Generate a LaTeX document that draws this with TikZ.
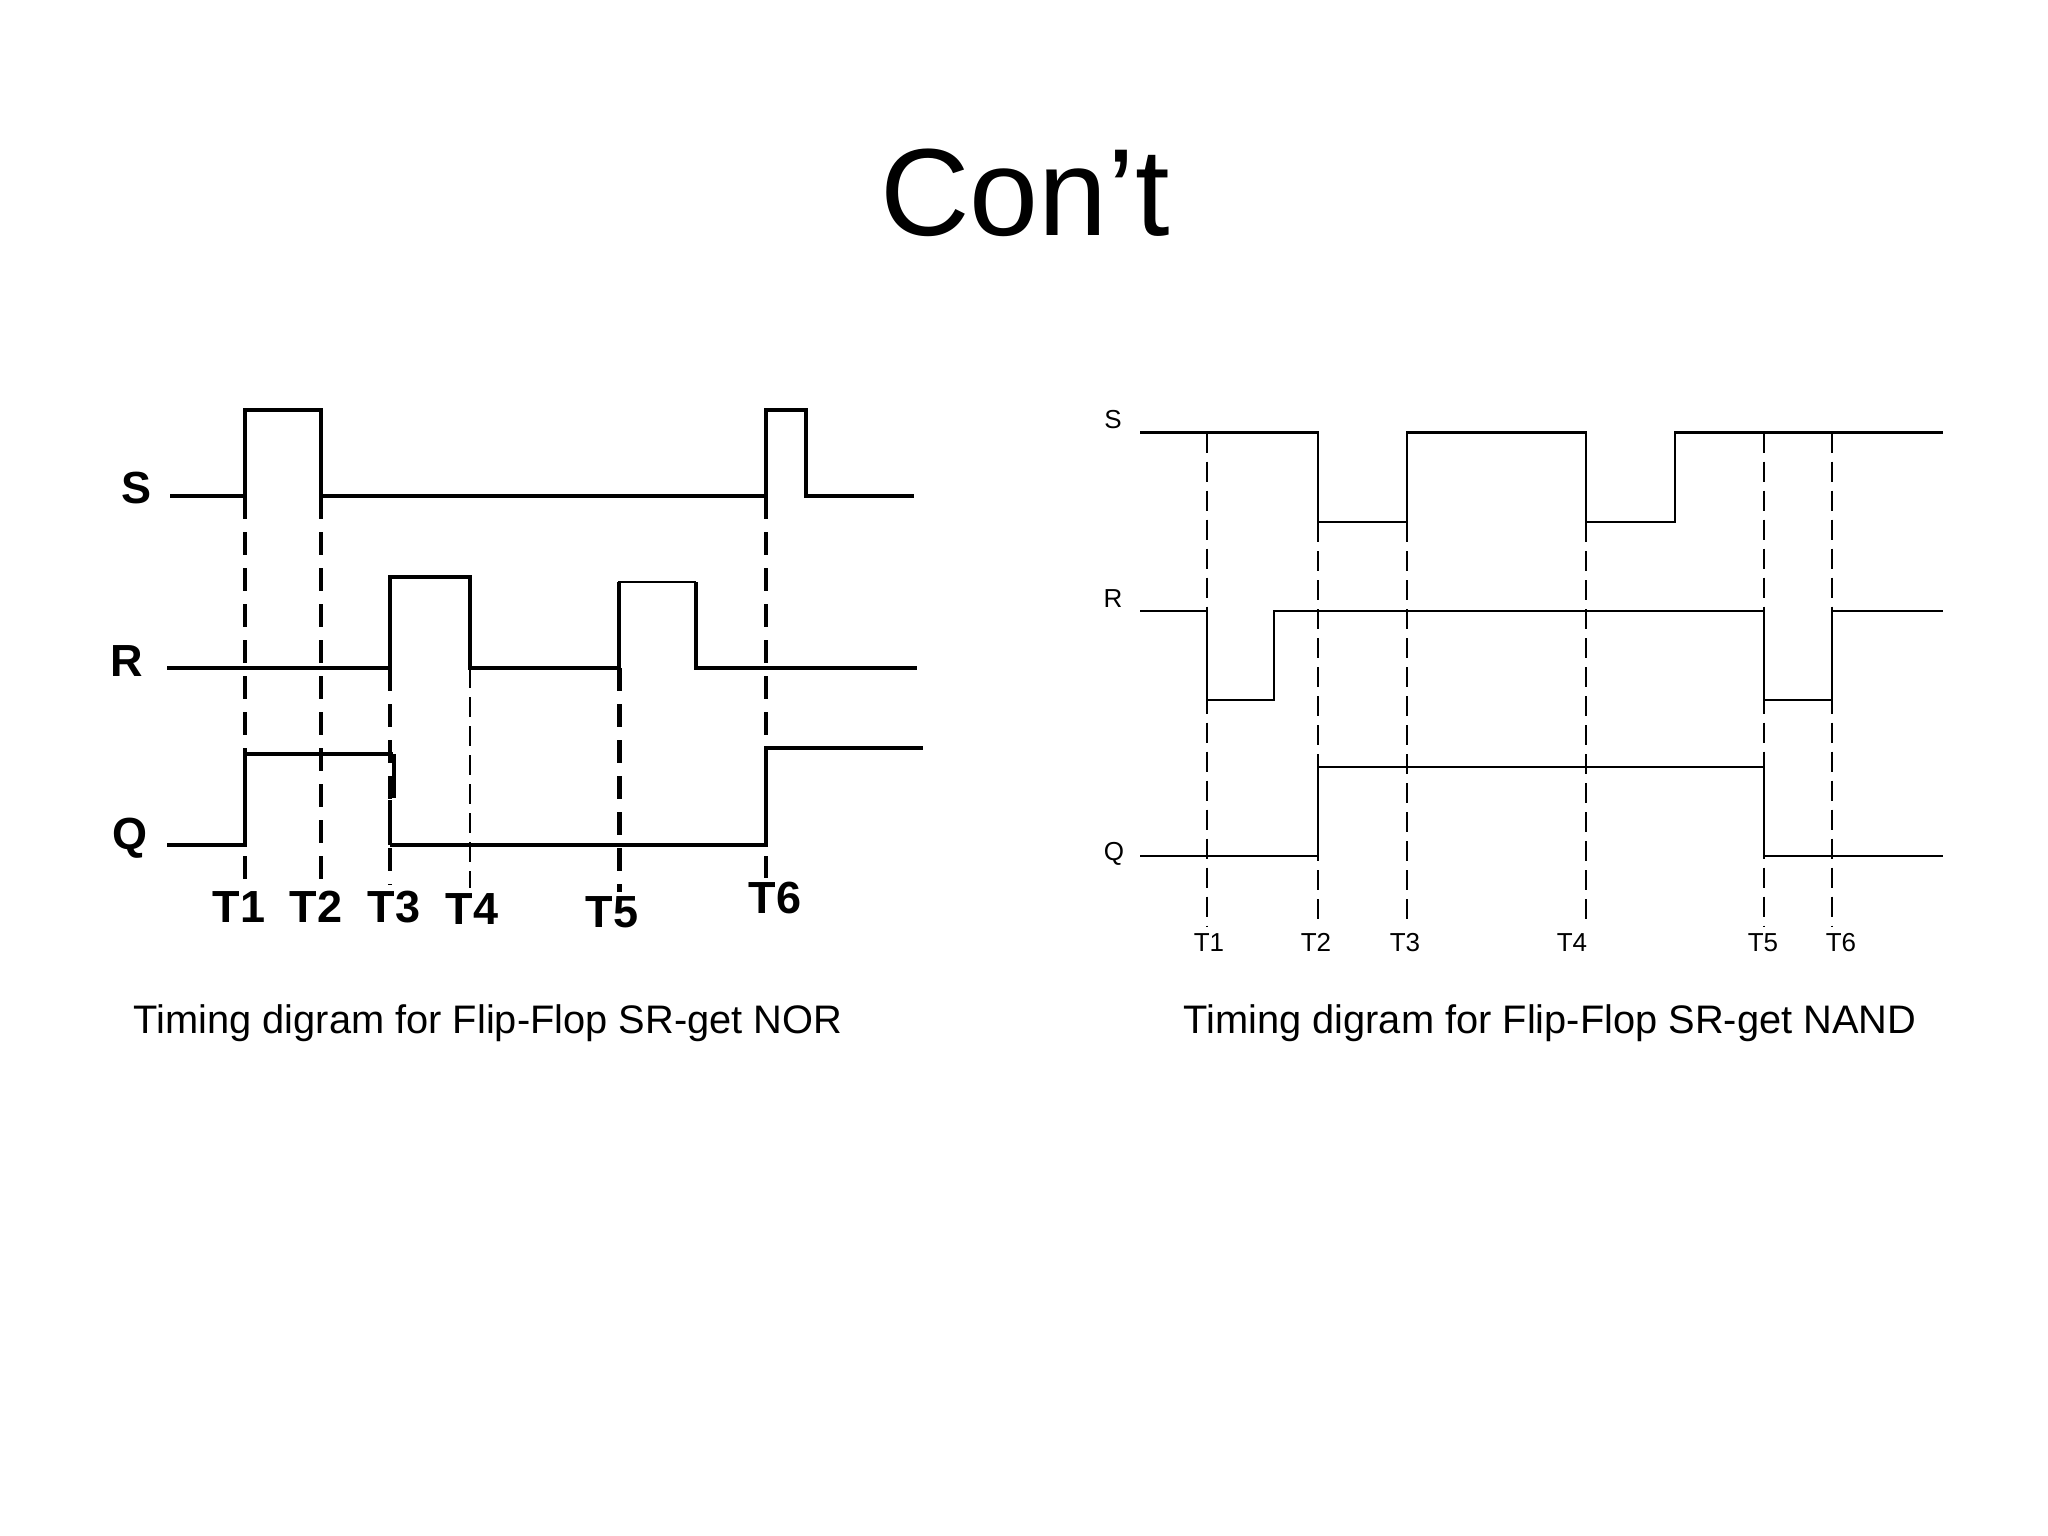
\documentclass[tikz,border=0pt]{standalone}
\usepackage{fontspec}
\setmainfont{Liberation Sans}
\begin{document}
\begin{tikzpicture}[
        x=1pt, y=-1pt,
        trace/.style = {line width=4.5pt, line join=miter}, % Signals on the left
        thintrace/.style = {line width=2.2pt, line join=miter}, % Signals on the right
        guide/.style = {line width=4pt, dash pattern=on 23pt off 13pt}, % Time marks on the left
        thinguide/.style = {line width=1.5pt, dash pattern=on 20pt off 9pt}, % Time marks on the right
        big/.style = {font=\fontsize{45}{45}\selectfont\bfseries, inner sep=0pt},
        small/.style = {font=\fontsize{26}{26}\selectfont, inner sep=0pt, text height=19pt, text depth=0pt},
        caption/.style = {font=\fontsize{39.8}{40}\selectfont, inner sep=0pt},
    ]
    \useasboundingbox (0,0) rectangle (2048,1536);

    \node[font=\fontsize{124}{124}\selectfont, inner sep=0pt] (title) at (1025,193) {Con’t};
    \node[caption] (capnor) at (488,1023) {Timing digram for Flip-Flop SR-get NOR};
    \node[caption] (capnand) at (1550,1023) {Timing digram for Flip-Flop SR-get NAND};

    % NOR
    \node[big] (norS) at (137,488) {S};
    \node[big] (norR) at (127,661) {R};
    \node[big] (norQ) at (130,838) {Q};
    \foreach \name/\x/\y in {T1/239/907, T2/316/907, T3/394/907, T4/472/909, T5/612/912, T6/775/898}
        \node[big] (nor\name) at (\x,\y) {\name};

    \draw[trace] (170,496) -- (245,496) -- (245,410) -- (321,410) -- (321,496) -- (766,496)
        -- (766,410) -- (806,410) -- (806,496) -- (914,496);
    \draw[trace] (167,668) -- (390,668) -- (390,577) -- (470,577) -- (470,668) -- (619,668);
    \draw[thintrace] (619,668) -- (619,582) -- (696,582);
    \draw[trace] (619,668) -- (619,582);
    \draw[trace] (696,582) -- (696,668) -- (917,668);
    \draw[trace] (167,845) -- (245,845) -- (245,754) -- (393,754);
    \draw[trace] (390,845) -- (390,800);
    \draw[trace] (394,754) -- (394,798);
    \draw[trace] (390,845) -- (766,845) -- (766,748) -- (923,748);

    \foreach \x/\ya/\yb in {245/496/889, 321/496/889, 390/668/885, 766/496/878}
        \draw[guide] (\x,\ya) -- (\x,\yb);
    \draw[guide, line width=3pt] (390,668) -- (390,800);
    \draw[guide, line width=5pt] (619,668) -- (619,892);
    \draw[thinguide, line width=2.4pt] (470,668) -- (470,888);

    % NAND
    \node[small] (nandS) at (1113,419) {S};
    \node[small] (nandR) at (1113,598) {R};
    \node[small] (nandQ) at (1114,851) {Q};
    \foreach \name/\x in {T1/1209, T2/1316, T3/1405, T4/1572, T5/1763, T6/1841}
        \node[small] (nand\name) at (\x,942) {\name};

    \draw[thintrace] (1140,432.5) -- (1318,432.5) -- (1318,522) -- (1407,522) -- (1407,432.5) -- (1586,432.5)
        -- (1586,522) -- (1675,522) -- (1675,432.5) -- (1943,432.5);
    \draw[thintrace] (1140,611) -- (1207,611) -- (1207,700) -- (1274,700) -- (1274,611) -- (1764,611)
        -- (1764,700) -- (1832,700) -- (1832,611) -- (1943,611);
    \draw[thintrace] (1140,856) -- (1318,856) -- (1318,767) -- (1764,767) -- (1764,856) -- (1943,856);

    \foreach \x/\ya in {1207/432.5, 1318/522, 1407/522, 1586/522, 1764/432.5, 1832/432.5}
        \draw[thinguide] (\x,\ya) -- (\x,926);
\end{tikzpicture}
\end{document}
